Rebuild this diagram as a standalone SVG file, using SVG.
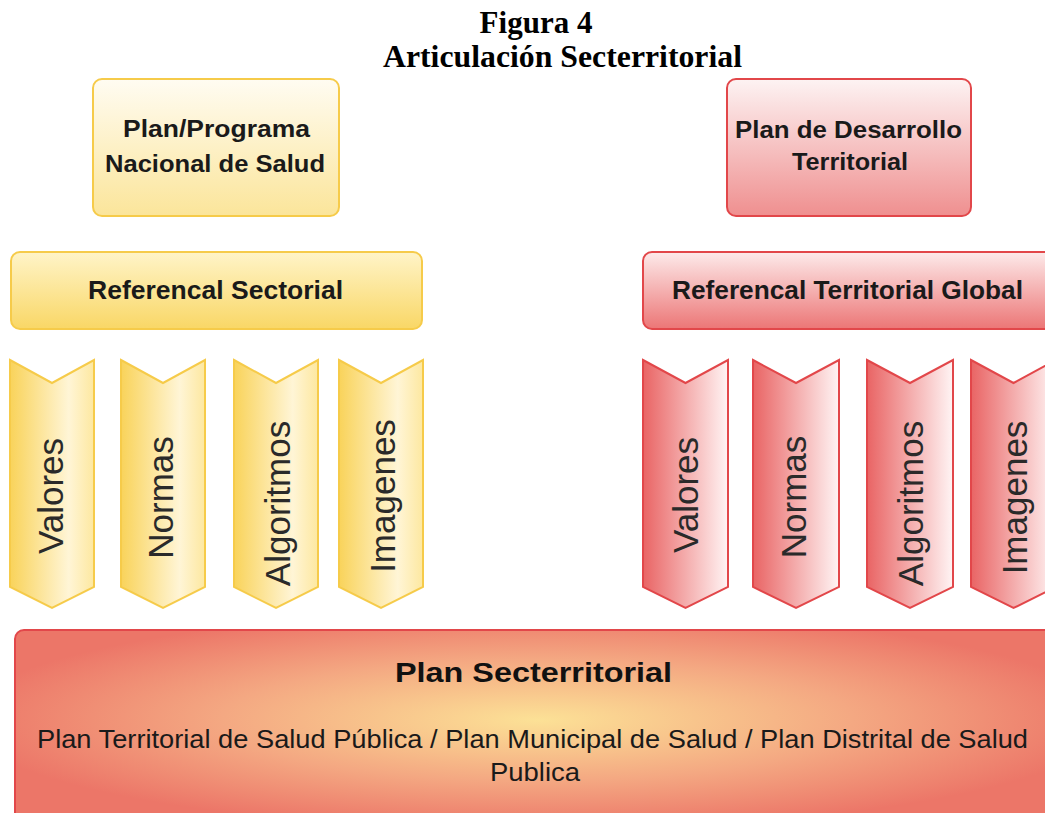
<svg xmlns="http://www.w3.org/2000/svg" width="1045" height="813" viewBox="0 0 1045 813">
<defs>
  <linearGradient id="yTop" x1="0" y1="0" x2="0" y2="1">
    <stop offset="0" stop-color="#fffcf2"/>
    <stop offset="1" stop-color="#fbe59a"/>
  </linearGradient>
  <linearGradient id="yRef" x1="0" y1="0" x2="0" y2="1">
    <stop offset="0" stop-color="#fff4c8"/>
    <stop offset="1" stop-color="#f9d766"/>
  </linearGradient>
  <linearGradient id="rTop" x1="0" y1="0" x2="0" y2="1">
    <stop offset="0" stop-color="#fdf3f3"/>
    <stop offset="1" stop-color="#ef8f8f"/>
  </linearGradient>
  <linearGradient id="rRef" x1="0" y1="0" x2="0" y2="1">
    <stop offset="0" stop-color="#fdeaea"/>
    <stop offset="1" stop-color="#ec7676"/>
  </linearGradient>
  <linearGradient id="yChev" x1="0" y1="0" x2="1" y2="0">
    <stop offset="0" stop-color="#f9d35a"/>
    <stop offset="0.7" stop-color="#fff5d6"/>
    <stop offset="1" stop-color="#fde8a0"/>
  </linearGradient>
  <linearGradient id="rChev" x1="0" y1="0" x2="1" y2="0">
    <stop offset="0" stop-color="#e96464"/>
    <stop offset="1" stop-color="#fff4f4"/>
  </linearGradient>
  <radialGradient id="bottomGrad" cx="0.5" cy="0.45" r="0.55">
    <stop offset="0" stop-color="#fce196"/>
    <stop offset="0.55" stop-color="#f4a882"/>
    <stop offset="1" stop-color="#ec7668"/>
  </radialGradient>
</defs>
<style>
  .title { font-family: "Liberation Serif", "Times New Roman", serif; font-weight: bold; font-size: 31px; fill: #000; text-anchor: middle; }
  .hdr { font-family: "Liberation Sans", Arial, sans-serif; font-weight: bold; font-size: 24px; fill: #1a1a1a; text-anchor: middle; }
  .ref { font-family: "Liberation Sans", Arial, sans-serif; font-weight: bold; font-size: 26px; fill: #1a1a1a; text-anchor: middle; }
  .chev { font-family: "Liberation Sans", Arial, sans-serif; font-size: 35px; fill: #2a2a2a; text-anchor: middle; }
  .big { font-family: "Liberation Sans", Arial, sans-serif; font-weight: bold; font-size: 28px; fill: #111; text-anchor: middle; }
  .sub { font-family: "Liberation Sans", Arial, sans-serif; font-size: 25px; fill: #1a1a1a; text-anchor: middle; }
  .ys { stroke: #f6cb4a; stroke-width: 2; }
  .rs { stroke: #e2474a; stroke-width: 2; }
</style>
<rect width="1045" height="813" fill="#ffffff"/>

<g id="title">
  <text class="title" x="536" y="33">Figura 4</text>
  <text class="title" x="562.5" y="67" textLength="359" lengthAdjust="spacingAndGlyphs">Articulación Secterritorial</text>
</g>

<g id="connectors"></g>

<g id="plan-nacional">
  <rect class="ys" x="93" y="79" width="246" height="137" rx="9" fill="url(#yTop)"/>
  <text class="hdr" x="216.5" y="137" textLength="187" lengthAdjust="spacingAndGlyphs">Plan/Programa</text>
  <text class="hdr" x="215" y="172" textLength="220" lengthAdjust="spacingAndGlyphs">Nacional de Salud</text>
</g>

<g id="plan-desarrollo">
  <rect class="rs" x="727" y="79" width="244" height="137" rx="9" fill="url(#rTop)"/>
  <text class="hdr" x="848.5" y="138" textLength="227" lengthAdjust="spacingAndGlyphs">Plan de Desarrollo</text>
  <text class="hdr" x="850" y="170" textLength="116" lengthAdjust="spacingAndGlyphs">Territorial</text>
</g>

<g id="ref-sectorial">
  <rect class="ys" x="11" y="252" width="411" height="77" rx="9" fill="url(#yRef)"/>
  <text class="ref" x="215.5" y="299" textLength="255" lengthAdjust="spacingAndGlyphs">Referencal Sectorial</text>
</g>

<g id="ref-territorial">
  <rect class="rs" x="643" y="252" width="420" height="77" rx="9" fill="url(#rRef)"/>
  <text class="ref" x="847.5" y="299" textLength="351" lengthAdjust="spacingAndGlyphs">Referencal Territorial Global</text>
</g>

<g id="s-valores">
  <polygon class="ys" points="10,360 52,383 94,360 94,587 52,608 10,587" fill="url(#yChev)"/>
  <text class="chev" transform="translate(63,496) rotate(-90)">Valores</text>
</g>
<g id="s-normas">
  <polygon class="ys" points="121,360 163,383 205,360 205,587 163,608 121,587" fill="url(#yChev)"/>
  <text class="chev" transform="translate(173,497.5) rotate(-90)">Normas</text>
</g>
<g id="s-algoritmos">
  <polygon class="ys" points="234,360 276,383 318,360 318,587 276,608 234,587" fill="url(#yChev)"/>
  <text class="chev" transform="translate(290,503.5) rotate(-90)">Algoritmos</text>
</g>
<g id="s-imagenes">
  <polygon class="ys" points="339,360 381,383 423,360 423,587 381,608 339,587" fill="url(#yChev)"/>
  <text class="chev" transform="translate(395,496) rotate(-90)">Imagenes</text>
</g>

<g id="t-valores">
  <polygon class="rs" points="643,360 685.5,383 728,360 728,587 685.5,608 643,587" fill="url(#rChev)"/>
  <text class="chev" transform="translate(698,495) rotate(-90)">Valores</text>
</g>
<g id="t-normas">
  <polygon class="rs" points="753,360 796,383 839,360 839,587 796,608 753,587" fill="url(#rChev)"/>
  <text class="chev" transform="translate(806,497) rotate(-90)">Normas</text>
</g>
<g id="t-algoritmos">
  <polygon class="rs" points="867,360 910,383 953,360 953,587 910,608 867,587" fill="url(#rChev)"/>
  <text class="chev" transform="translate(923,503.5) rotate(-90)">Algoritmos</text>
</g>
<g id="t-imagenes">
  <polygon class="rs" points="971,360 1013.5,383 1056,360 1056,587 1013.5,608 971,587" fill="url(#rChev)"/>
  <text class="chev" transform="translate(1027,497.5) rotate(-90)">Imagenes</text>
</g>

<g id="plan-secterritorial">
  <rect class="rs" x="15" y="630" width="1045" height="200" rx="9" fill="url(#bottomGrad)"/>
  <text class="big" x="533.5" y="682" textLength="277" lengthAdjust="spacingAndGlyphs">Plan Secterritorial</text>
  <text class="sub" x="532.5" y="748" textLength="991" lengthAdjust="spacingAndGlyphs">Plan Territorial de Salud Pública / Plan Municipal de Salud / Plan Distrital de Salud</text>
  <text class="sub" x="535" y="781" textLength="90" lengthAdjust="spacingAndGlyphs">Publica</text>
</g>
</svg>
